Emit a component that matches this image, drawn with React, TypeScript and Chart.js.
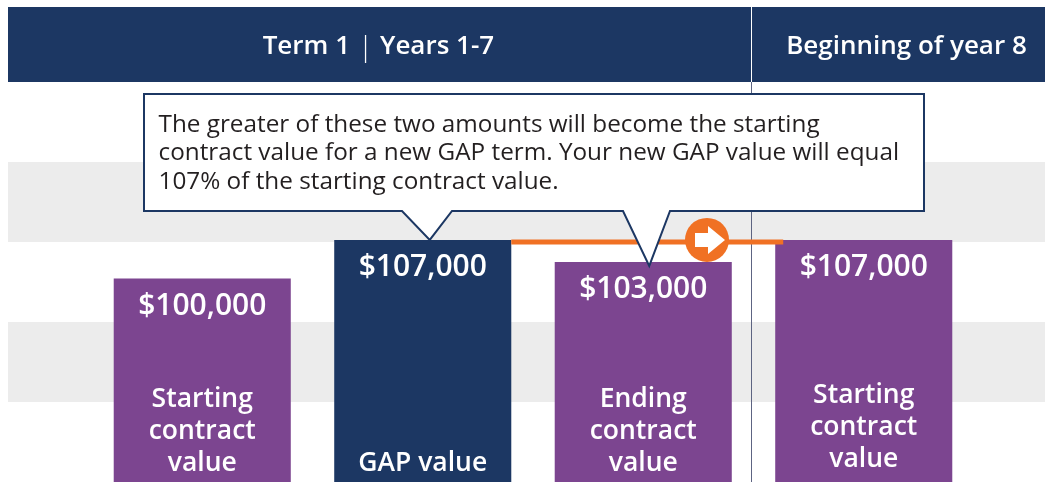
import React, { useEffect, useRef } from "react";
import { Chart, registerables } from "chart.js";

Chart.register(...registerables);

// ---- data ----
const categories: string[][] = [
  ["Starting", "contract", "value"],
  ["GAP value"],
  ["Ending", "contract", "value"],
  ["Starting", "contract", "value"],
];
const values: number[] = [100000, 107000, 103000, 107000];
const barKinds: string[] = ["contract", "gap", "contract", "contract"];
const headerTerm: string[] = ["Term 1", "Years 1-7"];
const headerNext = "Beginning of year 8";
const calloutLines: string[] = [
  "The greater of these two amounts will become the starting",
  "contract value for a new GAP term. Your new GAP value will equal",
  "107% of the starting contract value.",
];
const Y_MIN = 63000;
const Y_MAX = 135700;

// ---- styles ----
const NAVY = "#1c3763";
const PURPLE = "#7c4590";
const ORANGE = "#f07124";
const BAND = "#ececec";
const FONT = "'Open Sans', 'Noto Sans', sans-serif";

const fmt = (v: number) => "$" + v.toLocaleString("en-US");

const decor = {
  id: "decor",
  beforeDraw(chart: any) {
    const ctx = chart.ctx as CanvasRenderingContext2D;
    const W = chart.width;
    const H = chart.height;
    ctx.save();
    ctx.fillStyle = "#ffffff";
    ctx.fillRect(0, 0, W, H);
    ctx.fillStyle = BAND;
    ctx.fillRect(8, 162, W - 8, 80);
    ctx.fillRect(8, 322, W - 8, 80);
    ctx.fillStyle = NAVY;
    ctx.fillRect(8, 7, W - 8, 75);
    ctx.lineWidth = 1;
    ctx.strokeStyle = "#ffffff";
    ctx.beginPath();
    ctx.moveTo(751.5, 7);
    ctx.lineTo(751.5, 82);
    ctx.stroke();
    ctx.strokeStyle = "#5d6482";
    ctx.beginPath();
    ctx.moveTo(751.5, 82);
    ctx.lineTo(751.5, H);
    ctx.stroke();
    // header text
    ctx.fillStyle = "#ffffff";
    ctx.font = `600 26px ${FONT}`;
    ctx.textBaseline = "alphabetic";
    ctx.textAlign = "right";
    ctx.fillText(headerTerm[0], 350, 54);
    ctx.textAlign = "left";
    ctx.fillText(headerTerm[1], 380, 54);
    ctx.textAlign = "center";
    ctx.font = `300 28px ${FONT}`;
    ctx.fillText("|", 365.5, 56);
    ctx.font = `600 26px ${FONT}`;
    ctx.fillText(headerNext, 906.5, 54);
    ctx.restore();
  },
  afterDatasetsDraw(chart: any) {
    const ctx = chart.ctx as CanvasRenderingContext2D;
    const H = chart.height;
    const bars = chart.getDatasetMeta(0).data as any[];
    ctx.save();

    // orange connector
    const b2 = bars[1];
    const b4 = bars[3];
    const ly = b2.y + 2;
    ctx.strokeStyle = ORANGE;
    ctx.lineWidth = 5;
    ctx.beginPath();
    ctx.moveTo(b2.x + b2.width / 2, ly);
    ctx.lineTo(b4.x - b4.width / 2 + 8, ly);
    ctx.stroke();
    // circle with arrow
    const cx = 707;
    const cy = ly - 2;
    ctx.fillStyle = ORANGE;
    ctx.beginPath();
    ctx.arc(cx, cy, 22, 0, Math.PI * 2);
    ctx.fill();
    ctx.fillStyle = "#ffffff";
    ctx.beginPath();
    ctx.moveTo(cx - 12, cy - 7);
    ctx.lineTo(cx + 1, cy - 7);
    ctx.lineTo(cx + 1, cy - 14);
    ctx.lineTo(cx + 18, cy);
    ctx.lineTo(cx + 1, cy + 14);
    ctx.lineTo(cx + 1, cy + 7);
    ctx.lineTo(cx - 12, cy + 7);
    ctx.closePath();
    ctx.fill();

    // labels on bars
    ctx.fillStyle = "#ffffff";
    ctx.textAlign = "center";
    ctx.textBaseline = "alphabetic";
    bars.forEach((b, i) => {
      ctx.font = `600 30px ${FONT}`;
      ctx.fillText(fmt(values[i]), b.x, b.y + 36.5);
      ctx.font = `600 26.5px ${FONT}`;
      const lines = categories[i];
      const last = H - (i === 3 ? 15 : 11.5);
      lines.forEach((t, j) => {
        ctx.fillText(t, b.x, last - (lines.length - 1 - j) * 32);
      });
    });

    // callout
    const b3 = bars[2];
    const L = 144, T = 94, R = 924, B = 211;
    const t1x = b2.x + 7, t1y = b2.y;
    const t2x = b3.x + 6, t2y = b3.y + 4;
    ctx.beginPath();
    ctx.moveTo(L, T);
    ctx.lineTo(R, T);
    ctx.lineTo(R, B);
    ctx.lineTo(670, B);
    ctx.lineTo(t2x, t2y);
    ctx.lineTo(623, B);
    ctx.lineTo(452, B);
    ctx.lineTo(t1x, t1y);
    ctx.lineTo(402, B);
    ctx.lineTo(L, B);
    ctx.closePath();
    ctx.fillStyle = "#ffffff";
    ctx.fill();
    ctx.strokeStyle = NAVY;
    ctx.lineWidth = 2;
    ctx.lineJoin = "miter";
    ctx.stroke();
    ctx.fillStyle = "#231f20";
    ctx.font = `400 24.3px ${FONT}`;
    ctx.textAlign = "left";
    calloutLines.forEach((t, i) => {
      ctx.fillText(t, 158.5, 131.5 + i * 28.5);
    });
    ctx.restore();
  },
};

export default function App() {
  const ref = useRef<HTMLCanvasElement | null>(null);
  useEffect(() => {
    if (!ref.current) return;
    const chart = new Chart(ref.current, {
      type: "bar",
      data: {
        labels: categories,
        datasets: [
          {
            data: values,
            backgroundColor: barKinds.map((k) => (k === "gap" ? NAVY : PURPLE)),
            borderWidth: 0,
            barPercentage: 0.803,
            categoryPercentage: 1,
          },
        ],
      },
      options: {
        animation: false,
        responsive: false,
        devicePixelRatio: 1,
        events: [],
        layout: { padding: { left: 92, right: 71, top: 82, bottom: 0 } },
        plugins: { legend: { display: false }, tooltip: { enabled: false } },
        scales: {
          x: { display: false },
          y: { display: false, min: Y_MIN, max: Y_MAX },
        },
      },
      plugins: [decor],
    });
    return () => chart.destroy();
  }, []);
  return (
    <div style={{ position: "absolute", left: 0, top: 0, width: 1045, height: 482 }}>
      <canvas ref={ref} width={1045} height={482} />
    </div>
  );
}
